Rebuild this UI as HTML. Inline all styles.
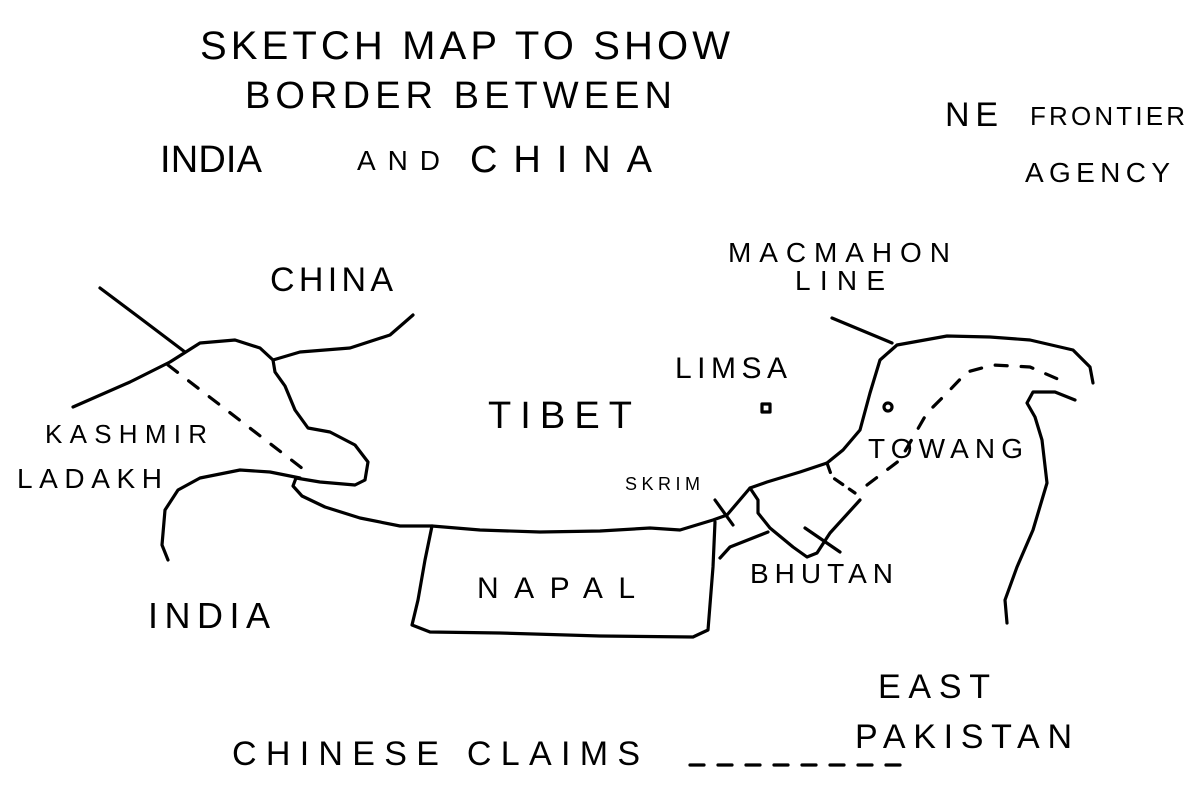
<!DOCTYPE html>
<html><head><meta charset="utf-8"><style>
html,body{margin:0;padding:0;background:#fff;}
svg{display:block}
text{font-family:"Liberation Sans",sans-serif;fill:#000;}
</style></head><body>
<svg width="1200" height="798" viewBox="0 0 1200 798" xmlns="http://www.w3.org/2000/svg">
<rect width="1200" height="798" fill="#fff"/>
<g fill="none" stroke="#000" stroke-width="3.2" stroke-linecap="round" stroke-linejoin="round">
<path d="M100,288 L140,318 L185,352"/>
<path d="M73,407 L130,382 L170,362 L200,343 L235,340 L260,348 L273,360"/>
<path d="M273,360 L300,352 L350,348 L390,335 L405,322 L413,315"/>
<path d="M273,360 L275,372 L285,386 L295,410 L308,428 L330,432 L355,445 L368,462 L365,480 L355,485 L320,482 L296,478 L293,486 L302,496 L325,507 L360,518 L400,526 L432,526 L480,530 L540,532 L600,531 L650,528 L680,530 L713,520 L727,515 L750,488 L767,482 L800,472 L827,463 L843,450 L860,430 L870,393 L880,360 L897,345 L947,336 L990,337 L1030,340 L1073,350 L1090,367 L1093,383"/>
<path d="M1075,400 L1055,392 L1033,392 L1027,403 L1035,417 L1042,440 L1047,483 L1033,530 L1017,567 L1005,600 L1007,623"/>
<path d="M300,478 L270,472 L240,470 L200,478 L178,490 L165,510 L162,545 L168,560"/>
<path d="M432,526 L425,560 L418,600 L412,625 L430,632 L500,633 L600,636 L693,637 L708,630 L713,567 L715,522"/>
<path d="M720,558 L730,547 L768,532"/>
<path d="M715,500 L733,525"/>
<path d="M750,488 L758,500 L758,513 L770,528 L793,547 L807,557 L817,553 L830,533 L860,500"/>
<path d="M805,528 L840,552"/>
<path d="M832,318 L892,343"/>
<path d="M690,765 L905,765" stroke-dasharray="14,14"/>
<path d="M168,365 L307,472" stroke-dasharray="12,14"/>
<path d="M827,463 L832,477 L855,493" stroke-dasharray="10,8"/>
<path d="M867,485 L900,460 L927,413 L947,393 L967,372 L993,365 L1030,367 L1067,383" stroke-dasharray="12,14"/>
<circle cx="888" cy="407" r="4"/>
<rect x="762" y="404" width="8" height="8"/>
</g>
<g lengthAdjust="spacing">
<text x="200" y="59" font-size="40" textLength="530" lengthAdjust="spacing">SKETCH MAP TO SHOW</text>
<text x="245" y="108" font-size="38" textLength="427" lengthAdjust="spacing">BORDER BETWEEN</text>
<text x="160" y="172" font-size="38" textLength="102" lengthAdjust="spacing">INDIA</text>
<text x="357" y="170" font-size="28" textLength="83" lengthAdjust="spacing">AND</text>
<text x="470" y="172" font-size="38" textLength="182" lengthAdjust="spacing">CHINA</text>
<text x="945" y="126" font-size="34" textLength="53" lengthAdjust="spacing">NE</text>
<text x="1030" y="125" font-size="26" textLength="155" lengthAdjust="spacing">FRONTIER</text>
<text x="1025" y="182" font-size="28" textLength="145" lengthAdjust="spacing">AGENCY</text>
<text x="728" y="262" font-size="28" textLength="222" lengthAdjust="spacing">MACMAHON</text>
<text x="795" y="290" font-size="28" textLength="90" lengthAdjust="spacing">LINE</text>
<text x="270" y="291" font-size="34" textLength="123" lengthAdjust="spacing">CHINA</text>
<text x="675" y="378" font-size="30" textLength="112" lengthAdjust="spacing">LIMSA</text>
<text x="488" y="428" font-size="38" textLength="144" lengthAdjust="spacing">TIBET</text>
<text x="868" y="458" font-size="28" textLength="155" lengthAdjust="spacing">TOWANG</text>
<text x="45" y="443" font-size="26" textLength="162" lengthAdjust="spacing">KASHMIR</text>
<text x="17" y="488" font-size="28" textLength="145" lengthAdjust="spacing">LADAKH</text>
<text x="625" y="490" font-size="18" textLength="75" lengthAdjust="spacing">SKRIM</text>
<text x="477" y="598" font-size="30" textLength="158" lengthAdjust="spacing">NAPAL</text>
<text x="750" y="583" font-size="28" textLength="143" lengthAdjust="spacing">BHUTAN</text>
<text x="148" y="628" font-size="36" textLength="122" lengthAdjust="spacing">INDIA</text>
<text x="878" y="698" font-size="34" textLength="112" lengthAdjust="spacing">EAST</text>
<text x="855" y="748" font-size="34" textLength="217" lengthAdjust="spacing">PAKISTAN</text>
<text x="232" y="765" font-size="34" textLength="408" lengthAdjust="spacing">CHINESE CLAIMS</text>
</g>
</svg>
</body></html>
